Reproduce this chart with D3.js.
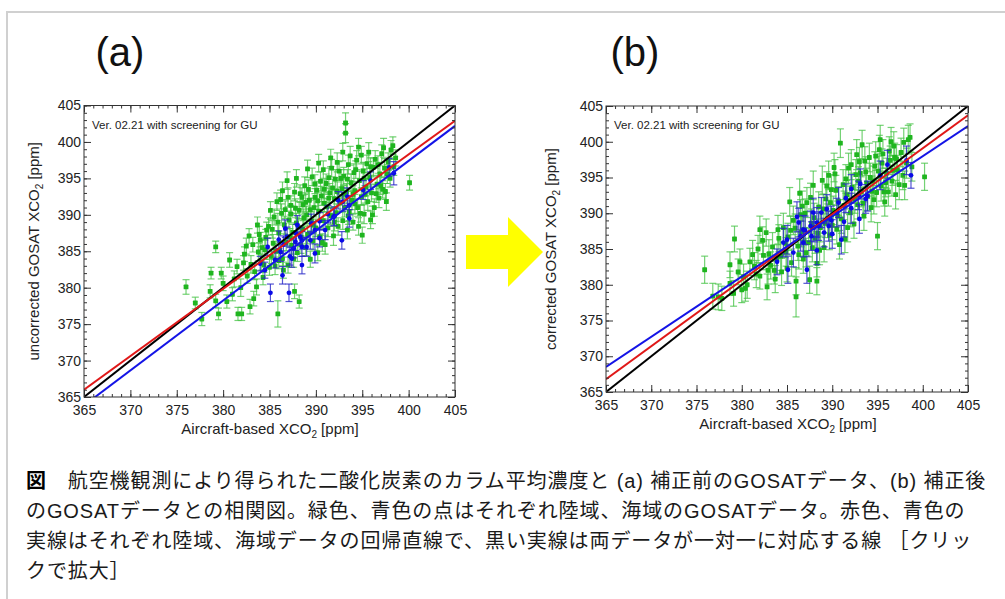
<!DOCTYPE html>
<html><head><meta charset="utf-8">
<script src="https://cdn.jsdelivr.net/npm/d3@7"></script>
<style>
html,body{margin:0;padding:0;background:#fff;}
svg{display:block;}
</style></head>
<body>
<svg id="c" width="1005" height="599"></svg>
<script>
// ---------- DATA ----------
const panelLabels = ["(a)", "(b)"];
const yTitles = ["uncorrected GOSAT XCO", "corrected GOSAT XCO"];
const xTitle = "Aircraft-based XCO";
const noteText = "Ver. 02.21 with screening for GU";
const axisDomain = [365, 405];
const majorTicks = [365, 370, 375, 380, 385, 390, 395, 400, 405];

// [aircraft XCO2, GOSAT XCO2, error]
const landA = [
[376.0,380.1,1.0],[377.0,377.9,0.8],[377.7,375.7,0.9],[378.6,379.5,0.9],[378.7,382.0,0.8],[379.2,385.6,0.8],[379.5,376.4,0.8],[379.8,382.0,0.8],[380.0,380.6,1.0],[380.4,378.1,0.9],[380.7,383.8,1.0],[381.2,381.2,1.1],[381.5,382.9,1.0],[381.6,376.4,0.9],[382.0,376.4,0.9],[381.9,380.0,1.2],[382.3,384.6,1.0],[382.5,385.7,1.1],[382.6,381.6,1.0],[382.9,377.4,1.0],[383.0,383.2,1.2],[383.2,385.9,1.0],[383.3,378.5,1.0],[383.4,382.2,1.1],[383.6,380.1,1.1],[383.8,384.9,1.2],[384.0,386.6,1.0],[384.1,383.5,1.1],[384.3,381.4,1.0],[384.5,385.2,1.3],[384.7,387.9,1.1],[384.9,388.4,1.2],[385.0,382.8,1.1],[385.2,384.3,1.0],[385.4,386.1,1.2],[385.5,389.7,1.1],[385.6,383.0,1.2],[385.8,391.8,1.2],[385.9,376.4,1.8],[386.0,387.5,1.1],[386.1,385.1,1.2],[386.3,390.2,1.3],[386.4,384.0,1.0],[386.6,388.6,1.2],[386.8,386.2,1.1],[386.9,394.7,1.2],[387.0,383.1,1.1],[387.1,389.3,1.2],[387.3,391.3,1.3],[387.4,385.8,1.2],[387.5,387.6,1.1],[387.7,379.5,1.0],[387.7,393.1,1.2],[387.9,388.9,1.3],[388.0,384.8,1.2],[388.2,378.1,0.9],[388.2,390.6,1.2],[388.4,386.9,1.3],[388.5,392.4,1.3],[388.6,388.0,1.2],[388.8,394.0,1.2],[388.9,385.5,1.1],[389.0,390.0,1.2],[389.1,387.3,1.3],[389.3,392.0,1.2],[389.4,383.9,1.1],[389.5,389.1,1.3],[389.6,395.2,1.2],[389.7,386.4,1.2],[389.8,391.0,1.3],[390.0,388.2,1.2],[390.1,393.4,1.2],[390.2,384.8,1.1],[390.3,390.5,1.3],[390.4,387.0,1.2],[390.6,392.6,1.3],[390.8,396.2,1.2],[390.8,389.2,1.2],[391.0,385.9,1.3],[391.1,394.3,1.3],[391.2,391.1,1.2],[391.3,388.2,1.2],[391.5,393.0,1.3],[391.6,389.9,1.2],[391.7,396.4,1.2],[391.9,387.1,1.3],[392.0,392.2,1.2],[392.1,394.9,1.3],[392.2,390.3,1.2],[392.4,388.4,1.2],[392.5,396.0,1.3],[392.6,391.6,1.2],[392.8,393.6,1.3],[392.9,389.2,1.2],[393.0,395.3,1.2],[393.1,391.0,1.3],[393.2,402.6,1.4],[393.2,401.2,1.3],[393.3,393.1,1.2],[393.4,387.9,1.2],[393.5,396.9,1.3],[393.6,390.4,1.2],[393.8,394.4,1.2],[393.9,392.0,1.3],[394.0,389.0,1.1],[394.1,395.8,1.2],[394.2,393.3,1.2],[394.4,397.5,1.3],[394.5,391.0,1.2],[394.6,388.4,1.2],[394.7,394.7,1.3],[394.9,398.2,1.2],[394.9,392.5,1.2],[395.0,387.2,1.1],[395.1,396.0,1.2],[395.2,390.1,1.3],[395.4,393.8,1.2],[395.5,397.0,1.2],[395.6,391.8,1.2],[395.8,395.1,1.3],[395.9,389.3,1.2],[396.0,393.0,1.2],[396.2,396.5,1.3],[396.3,391.0,1.2],[396.4,397.6,1.2],[396.6,394.2,1.2],[396.8,392.3,1.3],[396.9,395.6,1.2],[397.1,398.4,1.2],[397.2,393.5,1.2],[397.4,396.4,1.3],[397.5,393.2,1.1],[397.6,391.8,1.2],[397.8,397.3,1.2],[398.0,395.0,1.2],[398.1,398.9,1.3],[398.3,399.5,1.2],[398.4,396.6,1.2],[398.6,397.8,1.1],[400.1,394.4,1.0],
[384.6,386.9,1.1],[385.3,388.0,1.2],[386.2,392.1,1.3],[386.7,390.7,1.2],[387.2,386.9,1.2],[387.8,390.9,1.3],[388.3,392.9,1.2],[388.7,389.6,1.2],[389.2,393.5,1.3],[389.9,392.4,1.2],[390.5,394.6,1.3],[390.9,391.6,1.2],[391.4,395.1,1.3],[391.8,393.7,1.2],[392.3,397.2,1.3],[392.7,395.0,1.2],[393.7,398.1,1.3],[394.3,396.2,1.2],[394.8,390.2,1.2],[395.3,392.8,1.2],[395.7,398.6,1.3],[396.1,390.0,1.2],[396.7,396.9,1.2],[397.0,394.0,1.2],[397.3,399.2,1.3],[383.9,387.3,1.1],[384.4,383.1,1.0],[385.7,385.0,1.1],[386.5,382.4,1.1],[387.6,384.0,1.2],[388.1,388.3,1.2],[389.4,390.7,1.3],[390.7,386.2,1.2],[392.0,389.0,1.2],[393.5,389.9,1.2],[394.2,391.5,1.3],[382.8,387.1,1.0],[383.7,388.6,1.1],[381.0,379.1,0.9],[379.2,378.2,0.9],
[385.1,390.6,1.2],[386.4,393.3,1.2],[387.0,392.4,1.3],[387.9,395.0,1.2],[388.6,391.4,1.3],[389.1,396.3,1.2],[389.9,394.2,1.3],[390.3,397.1,1.2],[390.9,393.5,1.3],[391.6,397.8,1.2],[392.3,393.2,1.3],[392.9,398.6,1.2],[393.4,394.9,1.3],[394.0,392.8,1.2],[394.6,399.3,1.2],[395.2,395.0,1.3],[395.9,396.6,1.2],[396.5,392.9,1.2],[397.7,395.6,1.3],[384.2,385.5,1.1],[385.9,389.0,1.2],[387.3,390.1,1.2],[388.9,391.7,1.3],[390.2,391.9,1.2],[391.4,392.3,1.3],[393.0,392.8,1.2],[389.7,388.6,1.2],[388.4,385.9,1.2],[386.0,383.7,1.1],[382.2,383.4,1.0]
];
const oceanA = [
[384.0,383.3,1.0],[384.5,382.4,1.1],[384.8,385.6,1.2],[385.1,379.3,1.2],[385.6,383.8,1.1],[386.2,384.9,1.3],[386.4,381.7,1.2],[386.5,385.9,1.2],[386.9,387.0,1.3],[387.1,379.3,1.2],[387.2,384.3,1.2],[387.6,385.4,1.3],[387.8,386.3,1.2],[387.9,387.4,1.3],[388.3,387.0,1.2],[388.5,385.6,1.3],[388.5,383.1,1.2],[388.5,386.5,1.2],[389.0,385.6,1.3],[389.4,386.5,1.2],[389.5,388.8,1.3],[389.9,387.9,1.2],[389.9,384.7,1.3],[390.4,389.1,1.2],[390.4,386.8,1.2],[391.0,387.9,1.3],[391.3,390.1,1.2],[391.9,389.7,1.2],[392.0,389.8,1.3],[392.4,392.0,1.2],[392.8,386.5,1.2],[392.9,391.8,1.3],[393.4,392.5,1.2],[393.6,391.3,1.3],[393.6,389.5,1.2],[395.1,393.4,1.3],[395.9,394.7,1.2],[397.9,396.5,1.2],[398.4,395.7,1.6],[386.0,386.6,1.2],[386.7,388.1,1.2],[388.0,388.6,1.3],[387.4,384.0,1.2]
];
const landB = [
[375.9,382.1,1.9],[376.8,378.4,1.8],[377.4,378.3,1.8],[377.8,378.1,1.7],[378.7,382.8,1.8],[378.7,380.2,1.7],[379.1,378.8,1.8],[379.2,386.4,1.8],[379.8,383.2,1.8],[380.0,379.3,1.8],[380.4,379.5,1.8],[380.6,380.0,1.9],[380.9,383.2,1.9],[381.2,384.2,2.0],[381.6,381.5,1.9],[382.0,387.7,1.9],[382.0,381.2,1.8],[382.4,384.1,2.0],[382.7,387.3,1.9],[382.8,379.7,1.8],[383.2,382.7,1.9],[383.4,385.3,2.0],[383.7,380.8,1.9],[383.9,383.6,2.0],[384.1,386.5,1.9],[384.4,381.8,1.9],[384.6,388.0,2.0],[384.9,384.6,2.0],[385.1,386.7,1.9],[385.3,391.6,2.0],[385.5,383.1,1.9],[385.7,389.0,2.0],[386.0,378.3,2.8],[386.0,380.5,1.9],[386.2,385.4,2.0],[386.4,392.8,2.0],[386.6,387.4,2.1],[386.8,383.6,2.0],[387.0,390.0,2.0],[387.2,391.5,2.1],[387.4,385.9,2.0],[387.5,380.7,1.9],[387.7,388.6,2.0],[387.9,393.9,2.0],[388.1,386.5,2.1],[388.3,380.5,1.9],[388.3,383.0,1.9],[388.5,390.9,2.1],[388.7,388.0,2.0],[388.9,394.6,2.0],[389.1,385.2,2.0],[389.3,392.0,2.1],[389.5,389.3,2.0],[389.7,386.9,2.0],[389.9,393.3,2.1],[390.1,390.4,2.0],[390.3,395.5,2.0],[390.5,387.8,2.1],[390.7,391.7,2.0],[390.9,399.8,2.0],[391.0,389.2,2.0],[391.2,394.0,2.1],[391.4,386.4,1.9],[391.6,392.6,2.0],[391.8,396.3,2.1],[392.0,390.1,2.0],[392.2,393.6,2.0],[392.4,388.5,2.0],[392.6,395.4,2.1],[392.8,391.2,2.0],[393.0,397.2,2.0],[393.2,393.0,2.1],[393.3,399.6,2.0],[393.5,389.6,2.0],[393.7,395.8,2.1],[393.9,392.4,2.0],[394.1,397.8,2.0],[394.3,390.8,2.0],[394.5,394.5,2.1],[394.7,396.6,2.0],[394.9,392.9,2.0],[395.0,386.8,1.9],[395.2,398.9,2.0],[395.4,393.8,2.1],[395.6,398.3,2.0],[395.8,391.6,2.0],[396.0,395.6,2.1],[396.2,393.0,2.0],[396.4,397.4,2.0],[396.6,394.5,2.1],[396.8,399.4,2.0],[397.0,392.6,2.0],[397.2,396.1,2.0],[397.4,394.0,2.1],[397.6,398.5,2.0],[397.8,395.3,2.0],[398.0,393.9,2.0],[398.2,397.0,2.1],[398.4,400.3,2.0],[398.6,400.6,1.9],[398.8,396.5,2.0],[400.2,395.1,1.9],
[383.0,384.3,2.0],[384.0,387.7,2.0],[385.0,382.3,1.9],[385.9,387.9,2.0],[386.5,389.8,2.1],[387.1,384.5,2.0],[387.6,392.2,2.0],[388.0,389.4,2.0],[388.6,384.8,2.0],[389.0,390.6,2.1],[389.6,395.3,2.0],[390.0,388.3,2.0],[390.4,393.2,2.1],[390.8,385.6,2.0],[391.3,391.1,2.0],[391.7,388.0,2.0],[392.1,396.8,2.1],[392.5,392.0,2.0],[392.9,394.5,2.0],[393.4,391.4,2.0],[393.8,394.2,2.1],[394.2,395.0,2.0],[394.6,391.9,2.0],[395.1,395.9,2.1],[395.5,397.0,2.0],[395.9,394.3,2.0],[396.3,398.7,2.0],[396.7,396.0,2.1],[397.1,397.6,2.0],[381.4,382.6,1.9],[380.2,381.1,1.8],[382.3,386.2,1.9],[383.6,382.0,1.9],[384.8,385.8,2.0],[386.9,386.0,2.0],[388.4,387.2,2.0],[389.8,391.5,2.0],[391.5,394.8,2.0],[393.6,397.3,2.0],[397.9,399.9,2.0],[395.3,400.3,2.0],
[381.8,385.0,1.9],[382.9,382.0,1.9],[384.3,384.0,2.0],[385.4,387.6,2.0],[386.7,391.0,2.1],[387.8,385.2,2.0],[389.2,388.6,2.0],[390.6,389.6,2.1],[391.9,391.8,2.0],[393.1,395.6,2.0],[394.4,393.1,2.1],[395.7,393.0,2.0],[396.9,397.8,2.0],[389.4,393.8,2.0],[390.2,396.4,2.0],[392.7,398.2,2.1],[394.8,398.0,2.0],[396.5,400.0,2.0],[379.6,381.8,1.8],[386.3,384.2,2.0]
];
const oceanB = [
[383.9,383.2,1.8],[384.6,385.9,2.0],[385.0,386.3,2.0],[385.1,382.1,1.9],[385.7,384.5,2.0],[386.1,389.5,2.1],[386.3,388.7,2.0],[386.5,386.8,2.1],[386.8,387.7,2.0],[386.8,385.9,2.0],[387.2,382.1,1.9],[387.6,388.2,2.1],[387.7,386.8,2.0],[387.9,390.1,2.0],[388.3,388.7,2.1],[388.3,384.8,2.0],[388.5,388.2,2.0],[388.8,390.1,2.1],[389.1,387.3,2.0],[389.4,390.6,2.0],[389.6,388.2,2.1],[390.0,387.1,2.0],[390.5,390.1,2.0],[390.7,391.5,2.1],[391.0,386.3,2.0],[391.3,388.8,2.1],[391.5,392.1,2.0],[392.1,393.4,2.0],[392.1,390.7,2.1],[392.9,392.5,2.0],[393.0,389.2,2.0],[393.1,394.1,2.1],[393.7,392.0,2.0],[393.9,392.4,2.1],[395.3,395.3,2.0],[396.1,396.8,2.0],[398.2,397.4,2.0],[398.7,395.3,1.8],[387.0,387.6,2.0],[388.0,388.0,2.0],[389.9,389.0,2.0]
];
// regression / 1:1 lines: GOSAT value at x = 365 and x = 405
const oneToOne = [365, 405];
const landFitA = [366.0, 402.9];
const oceanFitA = [363.85, 402.2];
const landFitB = [366.8, 403.7];
const oceanFitB = [368.5, 402.2];

const captionLines = [
  ["図", "　航空機観測により得られた二酸化炭素のカラム平均濃度と (a) 補正前のGOSATデータ、(b) 補正後"],
  ["", "のGOSATデータとの相関図。緑色、青色の点はそれぞれ陸域、海域のGOSATデータ。赤色、青色の"],
  ["", "実線はそれぞれ陸域、海域データの回帰直線で、黒い実線は両データが一対一に対応する線 ［クリッ"],
  ["", "クで拡大］"]
];

// ---------- DRAW ----------
const svg = d3.select("#c");
const FONT = "'Liberation Sans', Arial, Helvetica, sans-serif";

svg.append("line").attr("x1",7).attr("x2",7).attr("y1",12).attr("y2",599).attr("stroke","#d0d0d0").attr("stroke-width",2);
svg.append("line").attr("x1",6).attr("x2",1005).attr("y1",12).attr("y2",12).attr("stroke","#d0d0d0").attr("stroke-width",2);

const arrowPts = [[466,235],[508,235],[508,217],[543,252],[508,287],[508,269],[466,269]];
svg.append("polygon").attr("points", arrowPts.map(p=>p.join(",")).join(" ")).attr("fill","#ffff00");

const panels = [
  {L:84, R:455, T:105.5, B:397, lx:120, land:landA, ocean:oceanA, fitL:landFitA, fitO:oceanFitA, ytitle:yTitles[0], ytx:39, xtx:270},
  {L:606, R:968, T:106, B:392, lx:635, land:landB, ocean:oceanB, fitL:landFitB, fitO:oceanFitB, ytitle:yTitles[1], ytx:556, xtx:788}
];

panels.forEach((p, i) => {
  const g = svg.append("g");
  const x = d3.scaleLinear().domain(axisDomain).range([p.L, p.R]);
  const y = d3.scaleLinear().domain(axisDomain).range([p.B, p.T]);

  g.append("text").attr("x", p.lx).attr("y", 66).attr("text-anchor","middle")
    .attr("font-family", FONT).attr("font-size", 40).attr("fill","#111").text(panelLabels[i]);

  const clipId = "clip"+i;
  svg.append("clipPath").attr("id", clipId).append("rect")
    .attr("x", p.L).attr("y", p.T).attr("width", p.R-p.L).attr("height", p.B-p.T);
  const plot = g.append("g").attr("clip-path", `url(#${clipId})`);

  const drawSet = (data, barColor, ptColor, square) => {
    const s = plot.append("g");
    data.forEach(d => {
      const cx = x(d[0]), y1 = y(d[1]-d[2]), y2 = y(d[1]+d[2]);
      s.append("line").attr("x1",cx).attr("x2",cx).attr("y1",y1).attr("y2",y2).attr("stroke",barColor).attr("stroke-width",1.2);
      s.append("line").attr("x1",cx-3.5).attr("x2",cx+3.5).attr("y1",y1).attr("y2",y1).attr("stroke",barColor).attr("stroke-width",1.2);
      s.append("line").attr("x1",cx-3.5).attr("x2",cx+3.5).attr("y1",y2).attr("y2",y2).attr("stroke",barColor).attr("stroke-width",1.2);
    });
    s.selectAll("rect.pt").data(data).enter().append("rect")
      .attr("x", d=>x(d[0])-2.4).attr("y", d=>y(d[1])-2.4).attr("width",4.8).attr("height",4.8)
      .attr("rx", square?0.6:2.4).attr("fill", ptColor);
  };
  drawSet(p.land, "rgba(70,195,70,0.75)", "#1fb51f", true);
  drawSet(p.ocean, "rgba(40,40,200,0.8)", "#0a0ae6", false);

  const lineOf = (vals, color) => plot.append("line")
    .attr("x1", x(axisDomain[0])).attr("y1", y(vals[0]))
    .attr("x2", x(axisDomain[1])).attr("y2", y(vals[1]))
    .attr("stroke", color).attr("stroke-width", 2);
  lineOf(oneToOne, "#000");
  lineOf(p.fitL, "#e01818");
  lineOf(p.fitO, "#1414e6");

  const minor = d3.range(365, 406, 1);
  const mk = (axisFn, tr, vals, size, labels) => {
    const a = axisFn.tickValues(vals).tickSizeInner(size).tickSizeOuter(0).tickPadding(labels?4:0);
    if (!labels) a.tickFormat("");
    const ag = g.append("g").attr("transform", tr).call(a);
    ag.select(".domain").remove();
    ag.selectAll("line").attr("stroke","#333").attr("stroke-width",1);
    ag.selectAll("text").attr("font-family", FONT).attr("font-size", 14).attr("fill","#222");
    return ag;
  };
  mk(d3.axisBottom(x), `translate(0,${p.B})`, minor, -3, false);
  mk(d3.axisTop(x), `translate(0,${p.T})`, minor, -3, false);
  mk(d3.axisLeft(y), `translate(${p.L},0)`, minor, -3, false);
  mk(d3.axisRight(y), `translate(${p.R},0)`, minor, -3, false);
  const bx = mk(d3.axisBottom(x), `translate(0,${p.B})`, majorTicks, -7, true);
  bx.selectAll("text").attr("dy","0.71em").attr("y", 8);
  mk(d3.axisTop(x), `translate(0,${p.T})`, majorTicks, -7, false);
  const ly = mk(d3.axisLeft(y), `translate(${p.L},0)`, majorTicks, -7, true);
  ly.selectAll("text").attr("x", -3);
  mk(d3.axisRight(y), `translate(${p.R},0)`, majorTicks, -7, false);

  g.append("rect").attr("x",p.L).attr("y",p.T).attr("width",p.R-p.L).attr("height",p.B-p.T)
    .attr("fill","none").attr("stroke","#333").attr("stroke-width",1);

  g.append("text").attr("x", p.L+8).attr("y", p.T+23).attr("font-family", FONT).attr("font-size", 11.5)
    .attr("fill","#222").text(noteText);

  const xt = g.append("text").attr("x", p.xtx).attr("y", p.B+37).attr("text-anchor","middle")
    .attr("font-family", FONT).attr("font-size", 15).attr("fill","#222");
  xt.append("tspan").text(xTitle);
  xt.append("tspan").attr("font-size", 10).attr("dy", 4).text("2");
  xt.append("tspan").attr("dy", -4).text(" [ppm]");

  const yt = g.append("text").attr("transform", `translate(${p.ytx},${(p.T+p.B)/2}) rotate(-90)`)
    .attr("text-anchor","middle").attr("font-family", FONT).attr("font-size", 15).attr("fill","#222");
  yt.append("tspan").text(p.ytitle);
  yt.append("tspan").attr("font-size", 10).attr("dy", 4).text("2");
  yt.append("tspan").attr("dy", -4).text(" [ppm]");
});

const cap = svg.append("g").attr("font-family", "'Liberation Sans', Arial, 'Noto Sans CJK JP', sans-serif")
  .attr("font-size", 20).attr("fill", "#1a1a1a").style("letter-spacing", "0.9px");
captionLines.forEach((ln, i) => {
  const t = cap.append("text").attr("x", 26).attr("y", 488 + i*30);
  if (ln[0]) t.append("tspan").attr("font-weight","bold").attr("fill","#000").text(ln[0]);
  t.append("tspan").text(ln[1]);
});
</script>
</body></html>
